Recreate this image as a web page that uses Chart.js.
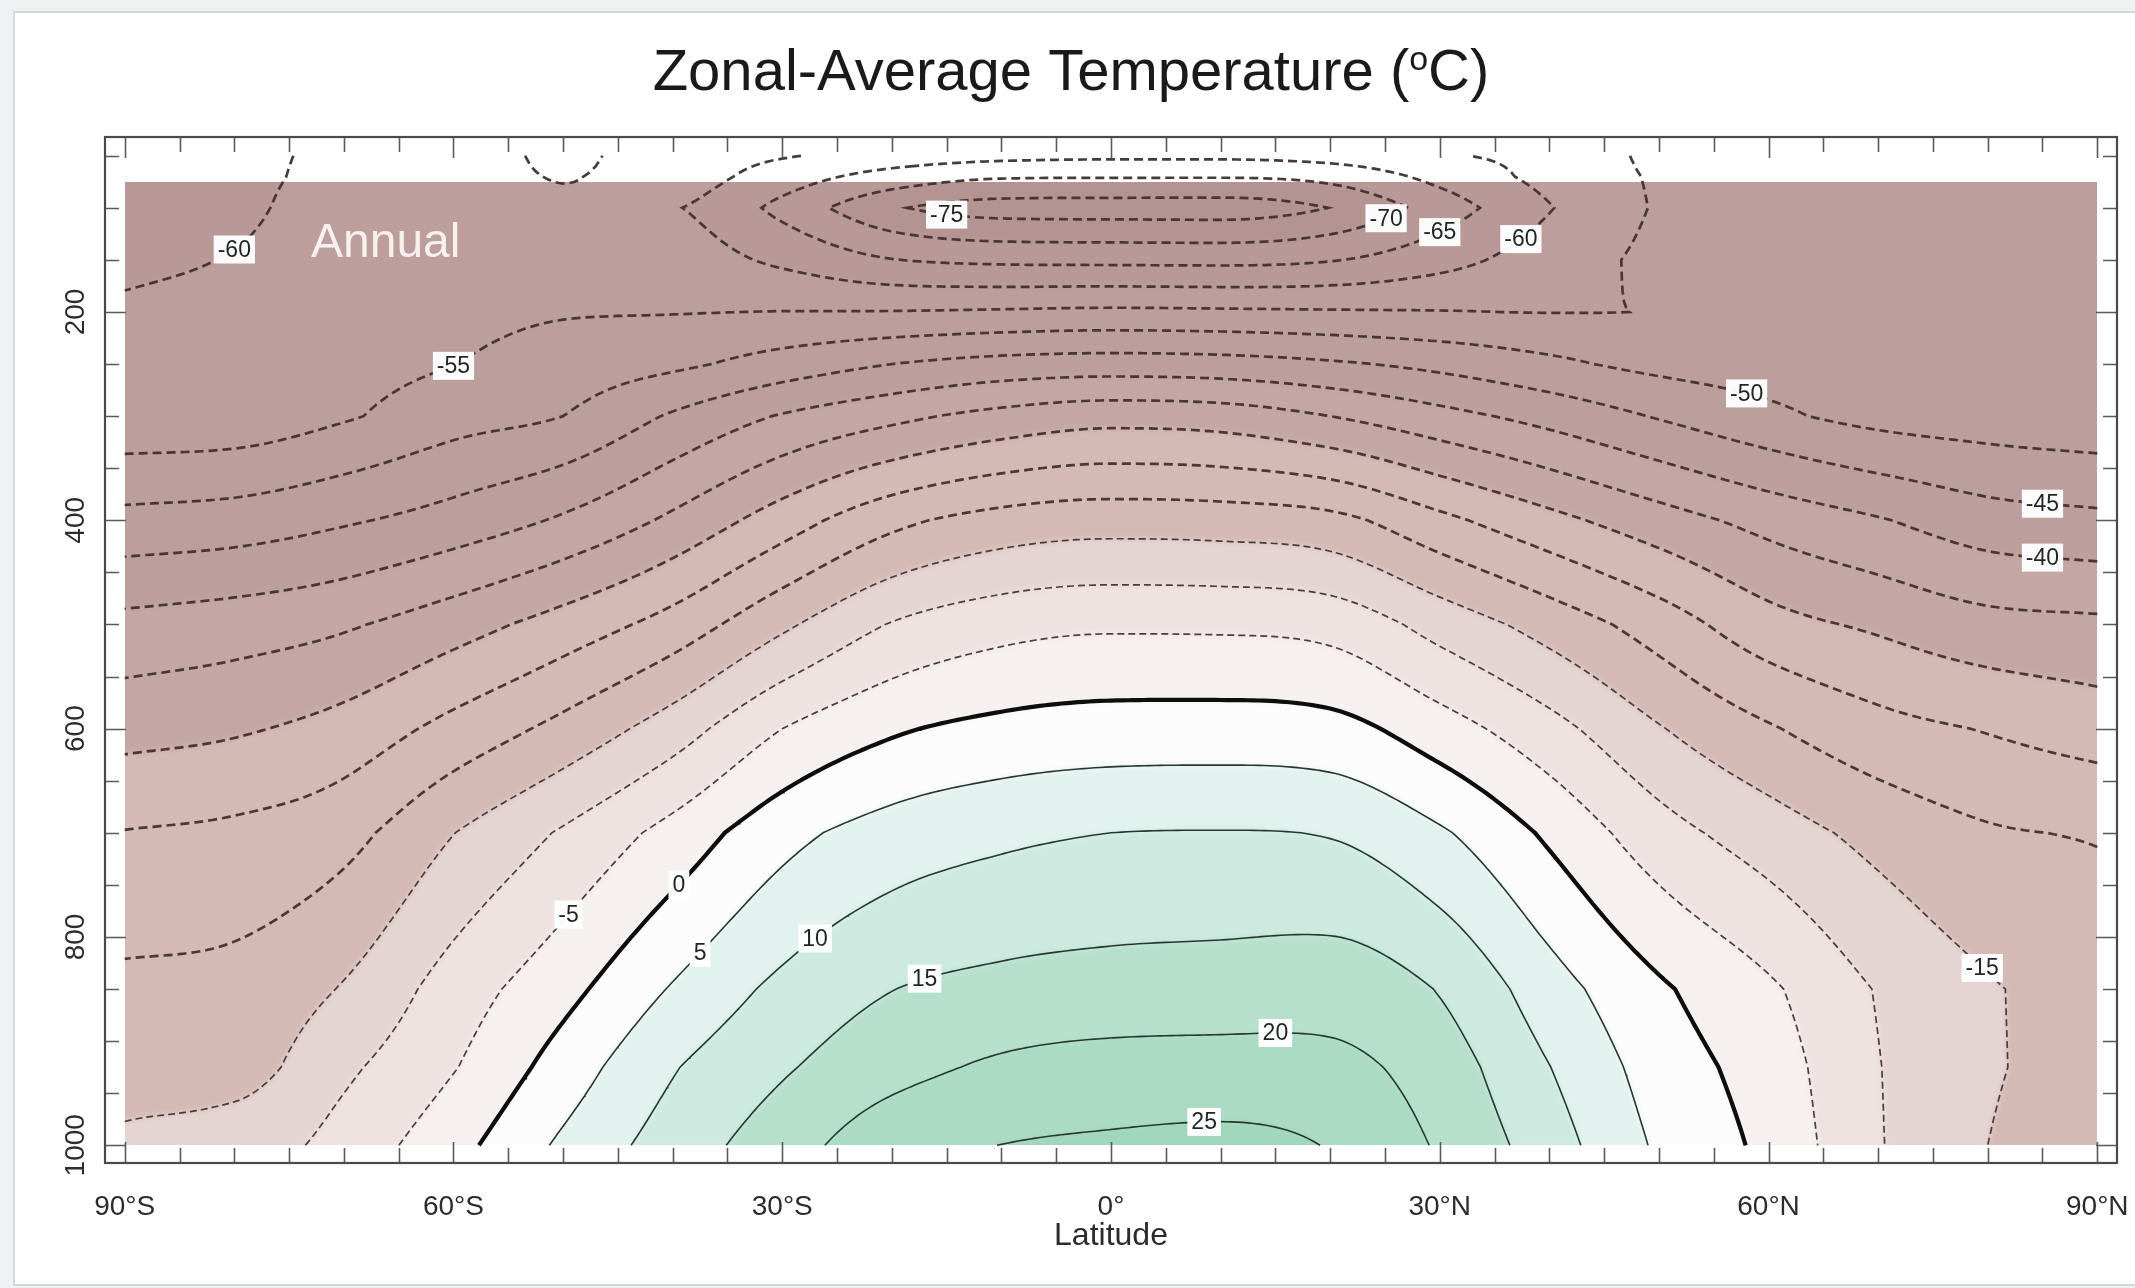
<!DOCTYPE html>
<html>
<head>
<meta charset="utf-8">
<script src="https://cdn.jsdelivr.net/npm/chart.js@4.4.1/dist/chart.umd.min.js"></script>
<style>
  html, body { margin: 0; padding: 0; background: #eef1f1; }
  canvas { display: block; }
</style>
</head>
<body>
<canvas id="c" width="2135" height="1288"></canvas>
<script>
// ---- Data: annual zonal-mean temperature (°C) ----
// grid columns: latitude (degrees, south negative)
const latitudes = [-90, -80, -70, -60, -50, -40, -30, -20, -10, 0, 10, 20, 30, 40, 50, 60, 70, 80, 90];
// grid rows: pressure levels (hPa)
const pressureLevels = [50, 70, 100, 150, 200, 250, 300, 400, 500, 600, 700, 850, 925, 1000];

// temperature along each pressure level, south to north
const t50   = [-63.5, -61.5, -58.8, -57.4, -61.0, -57.6, -59.6, -62.0, -63.5, -64.0, -64.0, -63.0, -60.5, -58.5, -54.0, -53.0, -52.5, -52.5, -52.5];
const t70   = [-63.0, -61.5, -58.5, -58.0, -60.2, -58.0, -62.5, -67.0, -69.5, -69.7, -69.7, -68.5, -63.5, -58.5, -54.5, -53.0, -52.5, -52.5, -52.5];
const t100  = [-62.5, -61.2, -57.5, -57.0, -59.3, -59.8, -66.5, -74.3, -77.3, -77.5, -77.6, -74.9, -67.8, -60.3, -54.6, -53.0, -52.8, -52.5, -52.5];
const t150  = [-61.0, -59.7, -57.0, -56.0, -57.5, -57.8, -61.0, -64.8, -66.0, -66.2, -66.3, -65.3, -61.8, -57.5, -54.0, -52.8, -52.8, -52.6, -52.5];
const t200  = [-59.3, -58.5, -57.5, -56.5, -55.4, -55.2, -54.9, -54.8, -54.4, -54.0, -54.2, -54.5, -54.8, -55.1, -54.85, -53.0, -53.0, -53.0, -52.8];
const t250  = [-59.0, -58.4, -57.0, -55.1, -52.7, -51.0, -47.9, -45.0, -43.2, -42.6, -43.0, -44.3, -46.3, -48.9, -51.4, -52.4, -53.0, -53.2, -53.2];
const t300  = [-58.7, -58.3, -55.6, -52.1, -50.0, -44.4, -39.6, -36.3, -33.4, -31.7, -32.3, -35.0, -38.4, -41.7, -45.4, -48.9, -51.6, -52.6, -53.4];
const t400  = [-48.5, -47.7, -45.6, -43.0, -39.3, -34.0, -27.5, -21.4, -18.1, -17.0, -17.3, -18.5, -23.7, -28.5, -32.8, -36.6, -39.6, -42.8, -43.9];
const t500  = [-38.5, -37.3, -35.6, -32.1, -27.9, -23.0, -16.0, -9.7, -6.7, -5.7, -5.8, -6.7, -11.9, -17.0, -22.3, -28.1, -30.8, -33.3, -34.0];
const t600  = [-31.7, -30.6, -28.1, -23.4, -18.5, -12.5, -5.0, -0.7, 1.3, 2.1, 2.2, 1.6, -2.8, -8.3, -14.65, -19.5, -23.3, -25.3, -27.3];
const t700  = [-24.8, -23.9, -21.6, -15.1, -9.4, -3.25, 3.3, 7.1, 9.0, 10.0, 10.2, 9.7, 5.65, -0.9, -7.9, -12.5, -16.5, -19.4, -20.3];
const t850  = [-18.85, -18.3, -14.6, -7.7, -1.6, 5.4, 11.2, 14.9, 16.3, 16.9, 17.2, 17.75, 14.7, 7.2, 0.8, -4.2, -10.3, -14.5, -17.0];
const t925  = [-16.6, -16.6, -11.0, -5.3, 2.2, 9.6, 14.4, 18.2, 20.8, 21.85, 22.0, 21.4, 17.5, 10.1, 2.8, -2.4, -9.8, -14.4, -17.0];
const t1000 = [-14.3, -13.0, -8.0, -1.7, 5.9, 12.3, 17.7, 23.2, 25.05, 25.8, 26.3, 24.7, 19.4, 12.3, 4.3, -1.3, -9.6, -15.0, -17.5];

// isotherms drawn (°C)
const contourLevels = [-75, -70, -65, -60, -55, -50, -45, -40, -35, -30, -25, -20, -15, -10, -5, 0, 5, 10, 15, 20, 25];

// axis labels
const latTickValues = [-90, -60, -30, 0, 30, 60, 90];
const latTickLabels = ['90°S', '60°S', '30°S', '0°', '30°N', '60°N', '90°N'];
const pTickValues = [200, 400, 600, 800, 1000];
const pTickLabels = ['200', '400', '600', '800', '1000'];

// ---- Drawing setup ----
const FILL_TOP_HPA = 75;           // shading starts at this level
const FONT = '"Liberation Sans", Arial, Helvetica, sans-serif';

// isotherm label placement (value, latitude, pressure hint)
const isothermLabels = [
  { v: -60, lat: -80.1, p: 140 }, { v: -55, lat: -59.8, p: 250 },
  { v: -75, lat: -14.8, p: 108 }, { v: -70, lat: 25.1, p: 111 },
  { v: -65, lat: 30.2, p: 126 }, { v: -60, lat: 37.5, p: 135 },
  { v: -50, lat: 57.7, p: 284 }, { v: -45, lat: 85, p: 390 },
  { v: -40, lat: 85, p: 439 }, { v: -15, lat: 80, p: 820 },
  { v: 0, lat: -40, p: 741 }, { v: -5, lat: -50, p: 775 },
  { v: 5, lat: -37.4, p: 812 }, { v: 10, lat: -27.5, p: 800 },
  { v: 15, lat: -17.4, p: 831 }, { v: 20, lat: 15, p: 884 },
  { v: 25, lat: 8.6, p: 974 }
];

// shading bands: upper edges and colours
const bandTops = [-70, -60, -40, -30, -15, -10, -5, 0, 5, 10, 15, 20, 25, Infinity];
const bandRGB = [
  [179, 148, 147], [184, 153, 152], [188, 158, 156], [196, 167, 165],
  [212, 185, 181], [229, 213, 210], [238, 227, 225], [246, 240, 239],
  [252, 252, 252], [226, 242, 239], [205, 234, 224], [183, 224, 204],
  [170, 219, 195], [160, 214, 186]
];

const rows = [t50, t70, t100, t150, t200, t250, t300, t400, t500, t600, t700, t850, t925, t1000];

// monotone cubic (Fritsch–Carlson) slopes along latitude for each level
function monotoneSlopes(xs, ys) {
  const n = xs.length, d = [], m = new Array(n);
  for (let i = 0; i < n - 1; i++) d.push((ys[i + 1] - ys[i]) / (xs[i + 1] - xs[i]));
  m[0] = d[0]; m[n - 1] = d[n - 2];
  for (let i = 1; i < n - 1; i++) m[i] = (d[i - 1] * d[i] <= 0) ? 0 : (d[i - 1] + d[i]) / 2;
  for (let i = 0; i < n - 1; i++) {
    if (d[i] === 0) { m[i] = 0; m[i + 1] = 0; continue; }
    const a = m[i] / d[i], b = m[i + 1] / d[i], s = a * a + b * b;
    if (s > 9) { const t = 3 / Math.sqrt(s); m[i] = t * a * d[i]; m[i + 1] = t * b * d[i]; }
  }
  return m;
}
const slopes = rows.map(r => monotoneSlopes(latitudes, r));

function rowValue(k, lat) {
  const xs = latitudes, ys = rows[k], m = slopes[k];
  lat = Math.max(xs[0], Math.min(xs[xs.length - 1], lat));
  let i = Math.min(xs.length - 2, Math.floor((lat - xs[0]) / (xs[1] - xs[0])));
  while (i > 0 && lat < xs[i]) i--;
  while (i < xs.length - 2 && lat > xs[i + 1]) i++;
  const h = xs[i + 1] - xs[i], t = (lat - xs[i]) / h;
  const t2 = t * t, t3 = t2 * t;
  return (2 * t3 - 3 * t2 + 1) * ys[i] + (t3 - 2 * t2 + t) * h * m[i] +
         (-2 * t3 + 3 * t2) * ys[i + 1] + (t3 - t2) * h * m[i + 1];
}

function levelIndex(p) {
  let k = 0;
  while (k < pressureLevels.length - 2 && p > pressureLevels[k + 1]) k++;
  const f = (p - pressureLevels[k]) / (pressureLevels[k + 1] - pressureLevels[k]);
  return [k, Math.max(0, Math.min(1, f))];
}

// fine working grid for isotherm tracing
function buildGrid() {
  const gx = [];
  for (let i = 0; i <= 360; i++) gx.push(latitudes[0] + i * 0.5);
  const gy = [];
  for (let k = 0; k < pressureLevels.length - 1; k++) {
    const p0 = pressureLevels[k], p1 = pressureLevels[k + 1];
    const n = Math.max(2, Math.round((p1 - p0) / 10));
    for (let s = 0; s < n; s++) gy.push(p0 + (p1 - p0) * s / n);
  }
  gy.push(pressureLevels[pressureLevels.length - 1]);
  const colRows = gx.map(lat => rows.map((_, k) => rowValue(k, lat)));
  const F = gy.map(p => {
    const [k, f] = levelIndex(p);
    return gx.map((_, i) => colRows[i][k] + f * (colRows[i][k + 1] - colRows[i][k]));
  });
  return { gx, gy, F };
}

// marching squares + chaining into polylines
function traceIsotherm(G, level) {
  const { gx: X, gy: Y, F } = G;
  const nodes = new Map();
  const node = (key, x0, y0, v0, x1, y1, v1) => {
    if (!nodes.has(key)) {
      const t = (level - v0) / (v1 - v0);
      nodes.set(key, { pt: { x: x0 + t * (x1 - x0), y: y0 + t * (y1 - y0) }, links: [] });
    }
    return key;
  };
  const link = (a, b) => { nodes.get(a).links.push(b); nodes.get(b).links.push(a); };
  for (let j = 0; j < Y.length - 1; j++) {
    for (let i = 0; i < X.length - 1; i++) {
      const a = F[j][i], b = F[j][i + 1], c = F[j + 1][i + 1], d = F[j + 1][i];
      const A = a >= level, B = b >= level, C = c >= level, D = d >= level;
      if (A === B && B === C && C === D) continue;
      const e = [];
      const top = A !== B ? node('h' + j + '_' + i, X[i], Y[j], a, X[i + 1], Y[j], b) : null;
      const right = B !== C ? node('v' + j + '_' + (i + 1), X[i + 1], Y[j], b, X[i + 1], Y[j + 1], c) : null;
      const bottom = C !== D ? node('h' + (j + 1) + '_' + i, X[i], Y[j + 1], d, X[i + 1], Y[j + 1], c) : null;
      const left = D !== A ? node('v' + j + '_' + i, X[i], Y[j], a, X[i], Y[j + 1], d) : null;
      [top, right, bottom, left].forEach(k => { if (k) e.push(k); });
      if (e.length === 2) link(e[0], e[1]);
      else if (e.length === 4) {
        const centre = (a + b + c + d) / 4 >= level;
        if (centre === A) { link(top, right); link(bottom, left); }
        else { link(top, left); link(right, bottom); }
      }
    }
  }
  const seen = new Set(), chains = [];
  const walk = start => {
    const out = [nodes.get(start).pt]; seen.add(start);
    let cur = start;
    for (;;) {
      const nb = nodes.get(cur).links.find(k => !seen.has(k));
      if (!nb) break;
      seen.add(nb); out.push(nodes.get(nb).pt); cur = nb;
    }
    return out;
  };
  for (const [k, n] of nodes) if (n.links.length === 1 && !seen.has(k)) chains.push(walk(k));
  for (const [k] of nodes) if (!seen.has(k)) { const ch = walk(k); ch.push(ch[0]); chains.push(ch); }
  return chains;
}

const grid = buildGrid();
const isothermChains = new Map();
const datasets = [];
contourLevels.forEach(v => {
  const chains = traceIsotherm(grid, v);
  isothermChains.set(v, chains);
  chains.forEach(ch => {
    if (ch.length < 2) return;
    let style;
    if (v === 0) style = { borderColor: '#0d0d0d', borderWidth: 4.2, borderDash: [] };
    else if (v > 0) style = { borderColor: '#26372f', borderWidth: 1.6, borderDash: [] };
    else if (v <= -20) style = { borderColor: 'rgba(64,48,48,0.95)', borderWidth: 2.7, borderDash: [9, 5] };
    else style = { borderColor: 'rgba(58,48,48,0.92)', borderWidth: 1.7, borderDash: [7, 4] };
    datasets.push(Object.assign({
      label: v + '°C', data: ch, showLine: true, pointRadius: 0, fill: false, tension: 0
    }, style));
  });
});

function bandColour(T) {
  for (let i = 0; i < bandTops.length; i++) if (T < bandTops[i]) return bandRGB[i];
  return bandRGB[bandRGB.length - 1];
}

// ---- Plugins ----
const panelPlugin = {
  id: 'panel',
  beforeDraw(chart) {
    const ctx = chart.ctx;
    ctx.save();
    ctx.fillStyle = '#eef1f1';
    ctx.fillRect(0, 0, chart.width, chart.height);
    ctx.fillStyle = '#ffffff';
    ctx.fillRect(14, 12, chart.width - 14, 1273);
    ctx.strokeStyle = '#d3d8d8';
    ctx.lineWidth = 2;
    ctx.strokeRect(14, 12, chart.width - 12, 1273);
    ctx.restore();
  }
};

const shadingPlugin = {
  id: 'shading',
  beforeDatasetsDraw(chart) {
    const { ctx, scales: { x, y } } = chart;
    const x0 = Math.round(x.getPixelForValue(latitudes[0]));
    const x1 = Math.round(x.getPixelForValue(latitudes[latitudes.length - 1]));
    const y0 = Math.round(y.getPixelForValue(FILL_TOP_HPA));
    const y1 = Math.round(y.getPixelForValue(pressureLevels[pressureLevels.length - 1]));
    const w = x1 - x0, h = y1 - y0;
    const off = document.createElement('canvas');
    off.width = w; off.height = h;
    const octx = off.getContext('2d');
    const img = octx.createImageData(w, h);
    const K = new Int32Array(h), Fr = new Float32Array(h);
    for (let r = 0; r < h; r++) {
      const [k, f] = levelIndex(y.getValueForPixel(y0 + r + 0.5));
      K[r] = k; Fr[r] = f;
    }
    const col = new Float64Array(rows.length);
    for (let c = 0; c < w; c++) {
      const lat = x.getValueForPixel(x0 + c + 0.5);
      for (let k = 0; k < rows.length; k++) col[k] = rowValue(k, lat);
      for (let r = 0; r < h; r++) {
        const k = K[r];
        const T = col[k] + Fr[r] * (col[k + 1] - col[k]);
        const rgb = bandColour(T);
        const o = (r * w + c) * 4;
        img.data[o] = rgb[0]; img.data[o + 1] = rgb[1]; img.data[o + 2] = rgb[2]; img.data[o + 3] = 255;
      }
    }
    octx.putImageData(img, 0, 0);
    ctx.save();
    ctx.beginPath(); ctx.rect(x0, y0, w, h); ctx.clip();
    ctx.drawImage(off, x0, y0);
    ctx.filter = 'blur(3px)';
    ctx.drawImage(off, x0, y0);
    ctx.filter = 'none';
    ctx.restore();
  }
};

const labelPlugin = {
  id: 'isothermLabels',
  afterDatasetsDraw(chart) {
    const { ctx, scales: { x, y } } = chart;
    ctx.save();
    // season tag
    ctx.fillStyle = '#f8f0ee';
    ctx.font = '48px ' + FONT;
    ctx.textBaseline = 'alphabetic';
    ctx.textAlign = 'left';
    ctx.fillText('Annual', 311, 257);

    ctx.font = '23px ' + FONT;
    ctx.textAlign = 'center';
    ctx.textBaseline = 'middle';
    isothermLabels.forEach(L => {
      const tx = x.getPixelForValue(L.lat), ty = y.getPixelForValue(L.p);
      let best = null, bd = Infinity;
      (isothermChains.get(L.v) || []).forEach(ch => ch.forEach(pt => {
        const px = x.getPixelForValue(pt.x), py = y.getPixelForValue(pt.y);
        const d = (px - tx) * (px - tx) + (py - ty) * (py - ty);
        if (d < bd) { bd = d; best = [px, py]; }
      }));
      if (!best) return;
      const text = String(L.v);
      const tw = ctx.measureText(text).width;
      ctx.fillStyle = 'rgba(255,255,255,0.96)';
      ctx.fillRect(best[0] - tw / 2 - 4, best[1] - 14, tw + 8, 28);
      ctx.fillStyle = '#1e2624';
      ctx.fillText(text, best[0], best[1] + 1);
    });
    ctx.restore();
  }
};

const framePlugin = {
  id: 'frameAxes',
  afterDraw(chart) {
    const { ctx, chartArea: a, scales: { x, y } } = chart;
    ctx.save();
    // ticks on all four sides, pointing inwards
    ctx.strokeStyle = '#5a5a5a';
    ctx.lineWidth = 1.6;
    ctx.beginPath();
    for (let v = -90; v <= 90; v += 5) {
      const px = Math.round(x.getPixelForValue(v)) + 0.5;
      const len = v % 30 === 0 ? 21 : 15;
      ctx.moveTo(px, a.top); ctx.lineTo(px, a.top + len);
      ctx.moveTo(px, a.bottom); ctx.lineTo(px, a.bottom - len);
    }
    for (let v = 50; v <= 1000; v += 50) {
      const py = Math.round(y.getPixelForValue(v)) + 0.5;
      const len = v % 200 === 0 ? 21 : 14;
      ctx.moveTo(a.left, py); ctx.lineTo(a.left + len, py);
      ctx.moveTo(a.right, py); ctx.lineTo(a.right - len, py);
    }
    ctx.stroke();
    ctx.strokeStyle = '#4a4a4a';
    ctx.lineWidth = 2.2;
    ctx.strokeRect(a.left, a.top, a.right - a.left, a.bottom - a.top);

    // tick labels
    ctx.fillStyle = '#2c2c2c';
    ctx.font = '28px ' + FONT;
    ctx.textAlign = 'center';
    ctx.textBaseline = 'middle';
    latTickValues.forEach((v, i) => ctx.fillText(latTickLabels[i], x.getPixelForValue(v), 1207));
    pTickValues.forEach((v, i) => {
      ctx.save();
      ctx.translate(76, y.getPixelForValue(v));
      ctx.rotate(-Math.PI / 2);
      ctx.fillText(pTickLabels[i], 0, 0);
      ctx.restore();
    });
    ctx.font = '32px ' + FONT;
    ctx.fillText('Latitude', x.getPixelForValue(0), 1236);

    // title with superscript degree
    const big = '58px ' + FONT, small = '34px ' + FONT;
    const p1 = 'Zonal-Average Temperature (', p2 = 'o', p3 = 'C)';
    ctx.font = big; const w1 = ctx.measureText(p1).width, w3 = ctx.measureText(p3).width;
    ctx.font = small; const w2 = ctx.measureText(p2).width;
    let tx = 1071 - (w1 + w2 + w3) / 2;
    ctx.textAlign = 'left';
    ctx.textBaseline = 'alphabetic';
    ctx.fillStyle = '#1a1a1a';
    ctx.font = big; ctx.fillText(p1, tx, 90); tx += w1;
    ctx.font = small; ctx.fillText(p2, tx, 70); tx += w2;
    ctx.font = big; ctx.fillText(p3, tx, 90);
    ctx.restore();
  }
};

new Chart(document.getElementById('c'), {
  type: 'scatter',
  data: { datasets },
  options: {
    responsive: false,
    devicePixelRatio: 1,
    animation: false,
    events: [],
    layout: { padding: { left: 105, right: 18, top: 137, bottom: 125 } },
    scales: {
      x: { type: 'linear', min: -91.8, max: 91.8, display: false },
      y: { type: 'linear', min: 32, max: 1017, reverse: true, display: false }
    },
    plugins: { legend: { display: false }, tooltip: { enabled: false }, title: { display: false } }
  },
  plugins: [panelPlugin, shadingPlugin, labelPlugin, framePlugin]
});
</script>
</body>
</html>
